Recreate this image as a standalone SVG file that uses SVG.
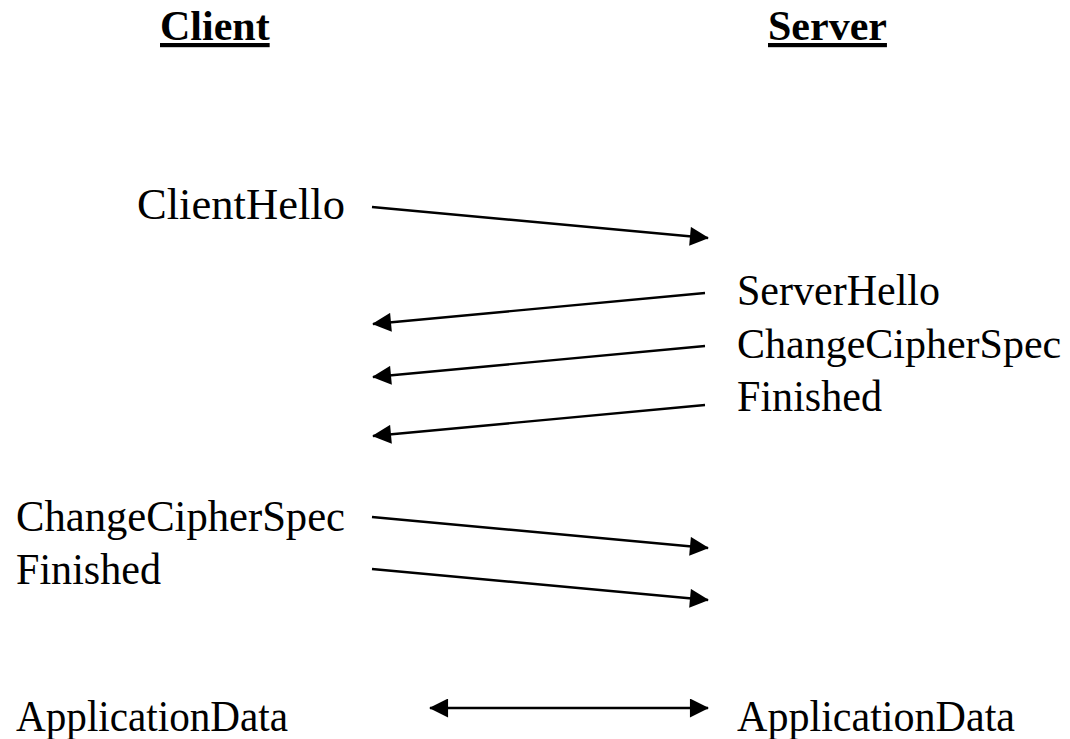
<svg xmlns="http://www.w3.org/2000/svg" width="1070" height="739" viewBox="0 0 1070 739">
<style>
text{font-family:"Liberation Serif","Times New Roman",serif;font-size:44px;fill:#000}
.h{font-size:42px;font-weight:bold;text-decoration:underline}
.s{font-size:42px}
.c line{stroke:#000;stroke-width:2.4}
</style>
<defs>
<marker id="ah" viewBox="0 0 10 10" refX="9.5" refY="5" markerWidth="21" markerHeight="19" markerUnits="userSpaceOnUse" orient="auto-start-reverse">
<path d="M0,0 L10,5 L0,10 z" fill="#000"/>
</marker>
</defs>
<rect width="1070" height="739" fill="#fff"/>
<g id="client-title"><text class="h" x="160" y="40">Client</text></g>
<g id="server-title"><text class="h" x="768" y="40">Server</text></g>
<g id="client-hello"><text x="137" y="219" textLength="208" lengthAdjust="spacingAndGlyphs">ClientHello</text></g>
<g id="server-hello"><text x="737" y="305" textLength="203" lengthAdjust="spacingAndGlyphs">ServerHello</text></g>
<g id="server-ccs"><text class="s" x="737" y="358">ChangeCipherSpec</text></g>
<g id="server-finished"><text x="737" y="411" textLength="145" lengthAdjust="spacingAndGlyphs">Finished</text></g>
<g id="client-ccs"><text x="16" y="531" textLength="329" lengthAdjust="spacingAndGlyphs">ChangeCipherSpec</text></g>
<g id="client-finished"><text x="16" y="584" textLength="145" lengthAdjust="spacingAndGlyphs">Finished</text></g>
<g id="client-appdata"><text x="16" y="731" textLength="272" lengthAdjust="spacingAndGlyphs">ApplicationData</text></g>
<g id="server-appdata"><text x="737" y="731" textLength="278" lengthAdjust="spacingAndGlyphs">ApplicationData</text></g>
<g id="connectors" class="c">
<line x1="372" y1="207" x2="708" y2="238" marker-end="url(#ah)"/>
<line x1="705" y1="293" x2="373" y2="324" marker-end="url(#ah)"/>
<line x1="705" y1="346" x2="373" y2="377" marker-end="url(#ah)"/>
<line x1="705" y1="405" x2="373" y2="436" marker-end="url(#ah)"/>
<line x1="372" y1="517" x2="708" y2="548" marker-end="url(#ah)"/>
<line x1="372" y1="569" x2="708" y2="600" marker-end="url(#ah)"/>
<line x1="430" y1="708" x2="708" y2="708" marker-start="url(#ah)" marker-end="url(#ah)"/>
</g>
</svg>
